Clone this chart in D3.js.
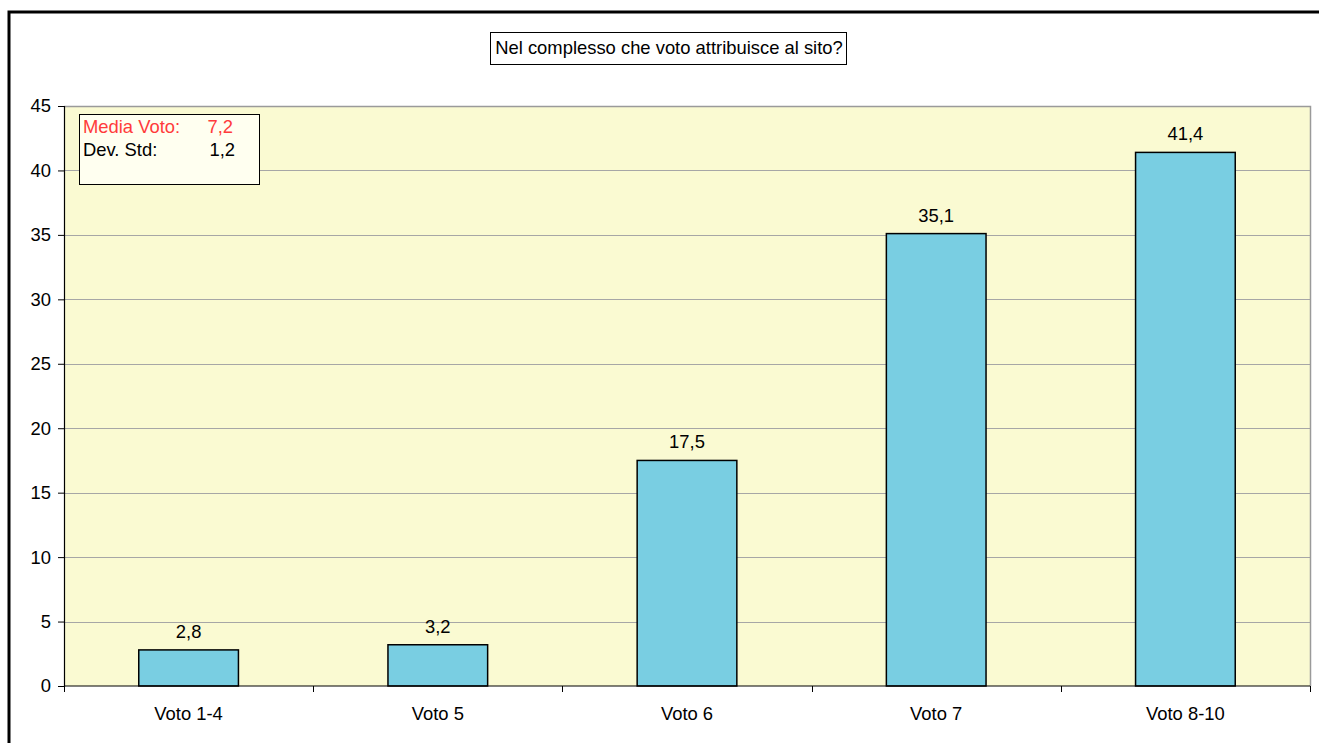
<!DOCTYPE html>
<html>
<head>
<meta charset="utf-8">
<script src="https://cdn.jsdelivr.net/npm/d3@7"></script>
<style>
  html, body { margin: 0; padding: 0; background: #ffffff; }
  svg { display: block; font-family: "Liberation Sans", Arial, sans-serif; }
</style>
</head>
<body>
<svg id="chart" width="1319" height="743"></svg>
<script>
// Survey: overall rating given to the site (% of respondents)
const categories = ["Voto 1-4", "Voto 5", "Voto 6", "Voto 7", "Voto 8-10"];
const values = [2.8, 3.2, 17.5, 35.1, 41.4];
const yTicks = [0, 5, 10, 15, 20, 25, 30, 35, 40, 45];
const titleText = "Nel complesso che voto attribuisce al sito?";
const statLabels = ["Media Voto:", "Dev. Std:"];
const statValues = [7.2, 1.2];

const FS = 18.4;
const fmt = v => d3.format(".1f")(v).replace(".", ",");

const svg = d3.select("#chart");
const W = 1319, H = 743;

// outer frame
svg.append("rect")
  .attr("x", 9).attr("y", 12)
  .attr("width", W + 10).attr("height", H + 10)
  .attr("fill", "none").attr("stroke", "#000").attr("stroke-width", 3);

const plot = { left: 64, top: 106, right: 1310, bottom: 686 };

const x = d3.scaleBand().domain(categories).range([plot.left, plot.right]).padding(0);
const y = d3.scaleLinear().domain([0, 45]).range([plot.bottom, plot.top]);

// plot area background
svg.append("rect")
  .attr("x", plot.left).attr("y", plot.top)
  .attr("width", plot.right - plot.left).attr("height", plot.bottom - plot.top)
  .attr("fill", "#FAFAD2");

// horizontal gridlines
svg.append("g").selectAll("line")
  .data(yTicks.filter(t => t > 0))
  .join("line")
  .attr("x1", plot.left).attr("x2", plot.right)
  .attr("y1", d => Math.round(y(d)) + 0.5).attr("y2", d => Math.round(y(d)) + 0.5)
  .attr("stroke", "#A6A6A6").attr("stroke-width", 1);

// plot frame (top and right)
svg.append("path")
  .attr("d", `M${plot.left},${plot.top + 0.5}H${plot.right + 0.5}V${plot.bottom}`)
  .attr("fill", "none").attr("stroke", "#9A9A9A").attr("stroke-width", 1.5);

// bars
const barW = x.bandwidth() * 0.4;
svg.append("g").selectAll("rect")
  .data(values)
  .join("rect")
  .attr("x", (d, i) => x(categories[i]) + (x.bandwidth() - barW) / 2)
  .attr("y", d => y(d))
  .attr("width", barW)
  .attr("height", d => y(0) - y(d))
  .attr("fill", "#79CEE2")
  .attr("stroke", "#000").attr("stroke-width", 1.5);

// value labels
svg.append("g").selectAll("text")
  .data(values)
  .join("text")
  .attr("x", (d, i) => x(categories[i]) + x.bandwidth() / 2)
  .attr("y", d => y(d) - 12)
  .attr("text-anchor", "middle")
  .attr("font-size", FS).attr("fill", "#000")
  .text(d => fmt(d));

// y axis
const yAxis = d3.axisLeft(y).tickValues(yTicks).tickSize(6).tickPadding(7).tickFormat(d3.format("d"));
const gy = svg.append("g").attr("transform", `translate(${plot.left},0)`).call(yAxis);
gy.select(".domain").attr("stroke", "#000").attr("stroke-width", 1.2);
gy.selectAll(".tick line").attr("stroke", "#000");
gy.selectAll(".tick text").attr("font-size", FS).attr("fill", "#000")
  .attr("font-family", "Liberation Sans, Arial, sans-serif");

// x axis with ticks at category boundaries
const gx = svg.append("g").attr("transform", `translate(0,${plot.bottom})`);
gx.append("line")
  .attr("x1", plot.left).attr("x2", plot.right)
  .attr("stroke", "#000").attr("stroke-width", 1.2);
const bounds = categories.map(c => x(c)).concat([x(categories[categories.length - 1]) + x.bandwidth()]);
gx.selectAll("line.tk")
  .data(bounds)
  .join("line").attr("class", "tk")
  .attr("x1", d => Math.round(d) + 0.5).attr("x2", d => Math.round(d) + 0.5)
  .attr("y1", 0).attr("y2", 6)
  .attr("stroke", "#000");
gx.selectAll("text")
  .data(categories)
  .join("text")
  .attr("x", d => x(d) + x.bandwidth() / 2)
  .attr("y", 34)
  .attr("text-anchor", "middle")
  .attr("font-size", FS).attr("fill", "#000")
  .text(d => d);

// title box
const title = svg.append("g");
title.append("rect")
  .attr("x", 490.5).attr("y", 32.5).attr("width", 356).attr("height", 32)
  .attr("fill", "#fff").attr("stroke", "#000").attr("stroke-width", 1);
title.append("text")
  .attr("x", 669).attr("y", 54)
  .attr("text-anchor", "middle")
  .attr("font-size", FS).attr("fill", "#000")
  .text(titleText);

// statistics box
const stats = svg.append("g");
stats.append("rect")
  .attr("x", 79.5).attr("y", 114.5).attr("width", 180).attr("height", 70)
  .attr("fill", "#FFFFF0").attr("stroke", "#000").attr("stroke-width", 1);
const statColors = ["#FF3B3B", "#000"];
statLabels.forEach((lab, i) => {
  stats.append("text")
    .attr("x", 83).attr("y", 133 + i * 23)
    .attr("font-size", FS).attr("fill", statColors[i])
    .text(lab);
  stats.append("text")
    .attr("x", i === 0 ? 233 : 235).attr("y", 133 + i * 23)
    .attr("text-anchor", "end")
    .attr("font-size", FS).attr("fill", statColors[i])
    .text(fmt(statValues[i]));
});
</script>
</body>
</html>
